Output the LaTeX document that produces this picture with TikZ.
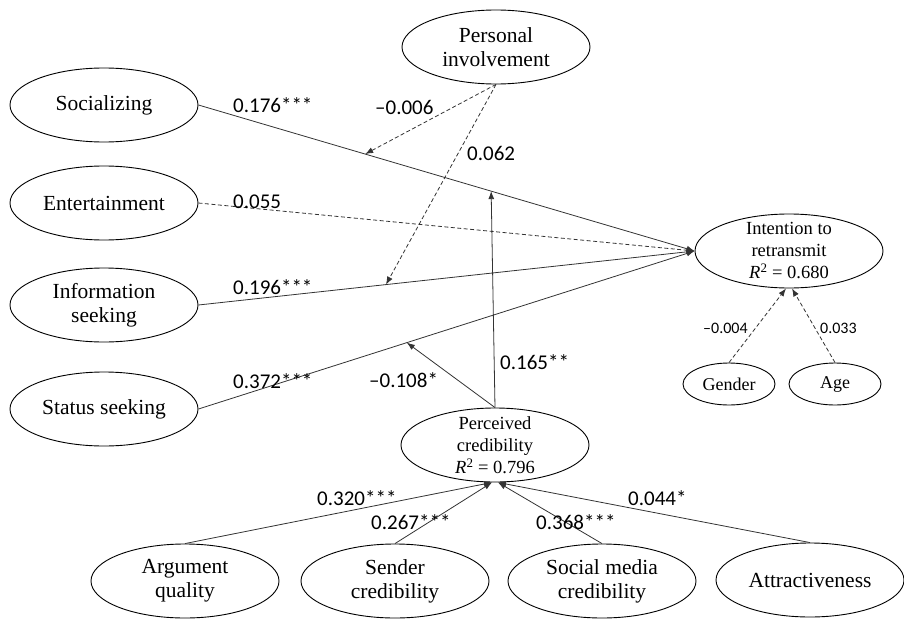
\documentclass[tikz,border=0pt]{standalone}
\usepackage{fontspec}
\setmainfont{Liberation Serif}
\newfontfamily\namefont{Liberation Serif}
\newfontfamily\coeffont{Carlito}
\usetikzlibrary{shapes.geometric,arrows.meta,calc}

\begin{document}
\begin{tikzpicture}[x=1pt, y=-1pt,
  construct/.style={shape=ellipse, draw=black, line width=0.9pt, minimum width=188pt, minimum height=74pt, inner sep=0pt, align=center, font=\namefont\fontsize{21.5}{24}\selectfont},
  control/.style={shape=ellipse, draw=black, line width=0.9pt, minimum width=92pt, minimum height=42pt, inner sep=0pt, font=\namefont\fontsize{18}{21}\selectfont},
  inside/.style={align=center, inner sep=0pt, font=\namefont\fontsize{18.5}{22}\selectfont},
  coef/.style={anchor=west, inner sep=0pt, font=\coeffont\fontsize{21}{24}\selectfont},
  smallcoef/.style={anchor=west, inner sep=0pt, font=\coeffont\fontsize{16}{18}\selectfont},
  link/.style={->, line width=0.8pt, draw=black!80},
  weak/.style={link, dash pattern=on 4pt off 2.5pt},
  >={Latex[length=8pt,width=6pt]}]
\useasboundingbox (0,0) rectangle (904,618);
\node[construct] (SO) at (104,105) {Socializing};
\node[construct] (EN) at (104,203) {Entertainment};
\node[construct] (IS) at (104,305) {Information\\seeking};
\node[construct] (SS) at (104,409) {Status seeking};
\node[construct] (PI) at (496,47) {Personal\\involvement};
\node[construct] (IR) at (789,251) {};
\node[inside] (IRtext) at (IR) {Intention to\\retransmit\\\textit{R}\textsuperscript{2} = 0.680};
\node[construct] (PC) at (495,445) {};
\node[inside] (PCtext) at (PC) {Perceived\\credibility\\\textit{R}\textsuperscript{2} = 0.796};
\node[control] (GE) at (729,384) {Gender};
\node[control] (AG) at (835,384) {Age};
\node[construct] (AQ) at (185,581) {Argument\\quality};
\node[construct] (SC) at (395,581) {Sender\\credibility};
\node[construct] (SM) at (602,581) {Social media\\credibility};
\node[construct] (AT) at (810,580) {Attractiveness};
\coordinate (mSO) at ($(SO.east)!0.336!(IR.west)$);
\coordinate (pSO) at ($(SO.east)!0.59!(IR.west)$);
\coordinate (mIS) at ($(IS.east)!0.378!(IR.west)$);
\coordinate (pSS) at ($(SS.east)!0.42!(IR.west)$);
\draw[link] (SO.east) -- (IR.west);
\draw[weak] (EN.east) -- (IR.west);
\draw[link] (IS.east) -- (IR.west);
\draw[link] (SS.east) -- (IR.west);
\draw[weak] (PI.south) -- (mSO);
\draw[weak] (PI.south) -- (mIS);
\draw[link] (PC.north) -- (pSO);
\draw[link] (PC.north) -- (pSS);
\draw[weak] (GE.north) -- ($(IR.south)+(-3,0)$);
\draw[weak] (AG.north) -- ($(IR.south)+(3,0)$);
\draw[link] (AQ.north) -- ($(PC.south)+(-3,0)$);
\draw[link] (SC.north) -- ($(PC.south)+(-3,0)$);
\draw[link] (SM.north) -- ($(PC.south)+(3,0)$);
\draw[link] (AT.north) -- ($(PC.south)+(3,0)$);
\node[coef] (cSO) at (233,105) {0.176***};
\node[coef] (cEN) at (233,202) {0.055};
\node[coef] (cIS) at (233,287) {0.196***};
\node[coef] (cSS) at (233,381) {0.372***};
\node[coef] (cPIa) at (375,107) {–0.006};
\node[coef] (cPIb) at (467,153) {0.062};
\node[coef] (cPCa) at (369,380) {–0.108*};
\node[coef] (cPCb) at (500,362) {0.165**};
\node[coef] (cAQ) at (317,498) {0.320***};
\node[coef] (cSC) at (371,522) {0.267***};
\node[coef] (cSM) at (536,522) {0.368***};
\node[coef] (cAT) at (628,498) {0.044*};
\node[smallcoef] (cGE) at (703,328) {–0.004};
\node[smallcoef] (cAG) at (820,328) {0.033};
\end{tikzpicture}
\end{document}
